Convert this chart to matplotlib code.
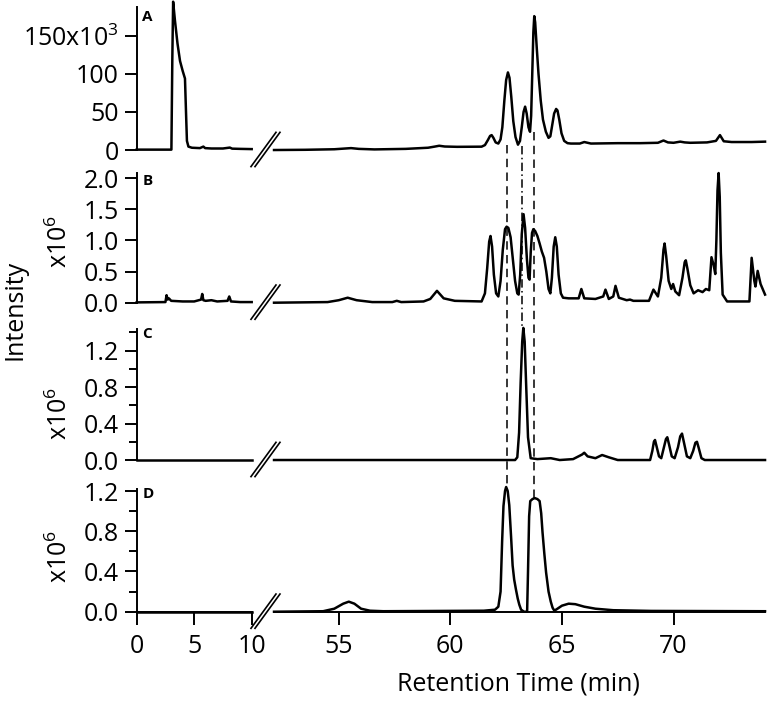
import matplotlib
matplotlib.use("Agg")
import matplotlib.pyplot as plt
import matplotlib.transforms as mtransforms
from matplotlib.lines import Line2D

# ---- data (time in min) ----
# Panel A (intensity in units of 1e3)
a_left_t = [0.0, 3.02, 3.1, 3.17, 3.33, 3.55, 3.77, 4.0, 4.2, 4.3, 4.37, 4.5, 4.8, 5.5, 5.8, 5.95, 6.5, 7.5, 8.1, 8.3, 9.0, 10.0]
a_left_y = [0.5, 0.5, 120, 195, 170, 140, 117, 104, 94, 45, 12, 4.5, 3.0, 2.5, 4.5, 2.5, 2.0, 2.0, 3.2, 1.8, 1.5, 1.2]
a_right_t = [52.1, 53.5, 54.8, 55.3, 55.55, 55.9, 56.6, 58.0, 59.0, 59.3, 59.5, 59.75, 60.3, 61.4,
             61.55, 61.68, 61.78, 61.85, 61.93, 62.03, 62.15, 62.25, 62.33, 62.42, 62.5, 62.58, 62.65,
             62.73, 62.82, 62.92, 63.03, 63.12, 63.2, 63.28, 63.35, 63.42, 63.5, 63.57, 63.62, 63.67,
             63.72, 63.76, 63.8, 63.87, 63.95, 64.05, 64.15, 64.28, 64.4, 64.48, 64.56, 64.65, 64.74,
             64.8, 64.88, 64.98, 65.1, 65.25, 65.4, 65.8, 66.0, 66.3, 67.5, 68.5, 69.3, 69.55, 69.75,
             70.0, 70.3, 70.5, 70.75, 71.5, 71.9, 72.08, 72.25, 72.6, 73.5, 74.1]
a_right_y = [0.0, 0.3, 1.0, 2.0, 2.5, 1.5, 0.8, 1.5, 3.0, 4.5, 5.6, 4.6, 4.2, 4.4,
             6.5, 13.0, 18.5, 19.6, 16.0, 10.0, 8.5, 14.0, 30.0, 65.0, 92.0, 102.0, 95.0,
             70.0, 38.0, 17.0, 7.0, 12.0, 30.0, 50.0, 57.0, 48.0, 30.0, 24.0, 45.0, 100.0,
             155.0, 176.0, 168.0, 135.0, 100.0, 65.0, 40.0, 24.0, 16.0, 18.0, 32.0, 48.0, 54.0,
             52.0, 40.0, 22.0, 12.0, 9.0, 8.5, 8.5, 10.5, 8.5, 9.0, 9.0, 9.5, 12.5, 10.0,
             9.5, 11.0, 10.0, 9.5, 10.0, 12.0, 19.6, 11.5, 10.5, 10.5, 11.0]

# Panel B (units of 1e6)
b_left_t = [0.0, 2.5, 2.6, 2.7, 2.8, 3.0, 4.0, 5.0, 5.6, 5.7, 5.8, 6.0, 6.5, 7.0, 7.9, 8.05, 8.2, 9.0, 10.0]
b_left_y = [0.005, 0.01, 0.12, 0.05, 0.07, 0.03, 0.02, 0.02, 0.05, 0.14, 0.04, 0.03, 0.04, 0.02, 0.03, 0.1, 0.02, 0.01, 0.01]
b_right_t = [52.1, 54.5, 55.0, 55.4, 55.8, 56.5, 57.4, 57.6, 57.8, 58.8, 59.1, 59.4, 59.7, 60.2,
             61.4, 61.55, 61.65, 61.74, 61.8, 61.87, 61.95, 62.05, 62.15, 62.25, 62.35, 62.45, 62.52,
             62.6, 62.7, 62.8, 62.9, 63.0, 63.06, 63.13, 63.2, 63.28, 63.35, 63.43, 63.5, 63.55, 63.6,
             63.66, 63.72, 63.8, 63.9, 64.0, 64.1, 64.2, 64.3, 64.4, 64.48, 64.55, 64.63, 64.7, 64.77,
             64.85, 64.95, 65.05, 65.3, 65.75, 65.87, 66.0, 66.5, 66.85, 66.95, 67.1, 67.3, 67.4, 67.55,
             67.9, 68.05, 68.2, 68.9, 69.1, 69.3, 69.45, 69.55, 69.6, 69.67, 69.78, 69.9, 69.98, 70.08,
             70.25, 70.4, 70.5, 70.55, 70.62, 70.75, 70.9, 71.1, 71.3, 71.45, 71.6, 71.7, 71.8, 71.87,
             71.92, 71.97, 72.02, 72.07, 72.12, 72.2, 72.4, 73.2, 73.4, 73.5, 73.62, 73.67, 73.77,
             73.9, 74.1]
b_right_y = [0.0, 0.01, 0.04, 0.08, 0.04, 0.01, 0.01, 0.03, 0.01, 0.02, 0.06, 0.19, 0.07, 0.03,
             0.02, 0.15, 0.55, 0.98, 1.07, 0.9, 0.45, 0.15, 0.1, 0.35, 0.85, 1.18, 1.22,
             1.2, 1.05, 0.7, 0.35, 0.15, 0.13, 0.45, 1.1, 1.42, 1.2, 0.7, 0.4, 0.37, 0.8,
             1.12, 1.18, 1.15, 1.07, 0.95, 0.82, 0.72, 0.5, 0.22, 0.15, 0.4, 0.9, 1.05, 0.9,
             0.45, 0.15, 0.08, 0.07, 0.07, 0.22, 0.07, 0.06, 0.1, 0.21, 0.06, 0.1, 0.27, 0.08,
             0.04, 0.05, 0.03, 0.03, 0.21, 0.1, 0.4, 0.85, 0.95, 0.75, 0.35, 0.22, 0.3, 0.18,
             0.12, 0.4, 0.65, 0.68, 0.55, 0.28, 0.15, 0.2, 0.17, 0.22, 0.2, 0.73, 0.6, 0.46,
             1.0, 1.8, 2.08, 1.7, 0.8, 0.13, 0.02, 0.02, 0.02, 0.72, 0.35, 0.26, 0.51,
             0.3, 0.13]

# Panel C (units of 1e6)
c_left_t = [0.0, 10.0]
c_left_y = [0.0, 0.0]
c_right_t = [52.1, 62.9, 63.0, 63.08, 63.15, 63.22, 63.27, 63.33, 63.4, 63.48, 63.6, 63.9, 64.5, 64.9,
             65.5, 65.9, 66.0, 66.15, 66.5, 66.8, 67.1, 67.5, 68.95, 69.05, 69.12, 69.17, 69.24, 69.35,
             69.45, 69.55, 69.66, 69.72, 69.8, 69.92, 70.05, 70.2, 70.3, 70.38, 70.46, 70.6, 70.75,
             70.88, 70.98, 71.05, 71.12, 71.25, 71.4, 74.1]
c_right_y = [0.0, 0.0, 0.03, 0.3, 0.85, 1.3, 1.45, 1.3, 0.8, 0.25, 0.02, 0.01, 0.02, 0.0,
             0.01, 0.06, 0.08, 0.04, 0.02, 0.055, 0.03, 0.0, 0.0, 0.1, 0.2, 0.22, 0.15, 0.04,
             0.02, 0.12, 0.23, 0.25, 0.17, 0.04, 0.02, 0.14, 0.26, 0.29, 0.2, 0.04, 0.02,
             0.1, 0.19, 0.2, 0.14, 0.02, 0.0, 0.0]

# Panel D (units of 1e6)
d_left_t = [0.0, 10.0]
d_left_y = [0.0, 0.0]
d_right_t = [52.1, 54.3, 54.8, 55.2, 55.45, 55.7, 56.0, 56.4, 57.0, 61.5, 62.0, 62.15, 62.25, 62.32,
             62.38, 62.45, 62.5, 62.57, 62.64, 62.72, 62.79, 62.86, 62.94, 63.02, 63.09, 63.17, 63.3,
             63.44, 63.48, 63.53, 63.58, 63.68, 63.78, 63.9, 64.0, 64.07, 64.13, 64.21, 64.29, 64.4,
             64.5, 64.58, 64.66, 64.8, 65.0, 65.3, 65.6, 66.0, 66.5, 67.3, 69.0, 74.1]
d_right_y = [0.0, 0.005, 0.03, 0.08, 0.1, 0.08, 0.03, 0.01, 0.005, 0.01, 0.02, 0.05, 0.2, 0.7,
             1.05, 1.2, 1.24, 1.2, 1.06, 0.75, 0.46, 0.32, 0.22, 0.13, 0.07, 0.02, 0.0,
             0.0, 0.4, 0.95, 1.1, 1.12, 1.13, 1.12, 1.1, 0.98, 0.79, 0.58, 0.39, 0.2,
             0.1, 0.04, 0.01, 0.03, 0.06, 0.08, 0.075, 0.05, 0.03, 0.015, 0.008, 0.005]

panel_names = ["A", "B", "C", "D"]
y_limits = [(0, 188), (0, 2.08), (0, 1.435), (0, 1.22)]
y_major = [[0, 50, 100, 150], [0, 0.5, 1.0, 1.5, 2.0], [0, 0.4, 0.8, 1.2], [0, 0.4, 0.8, 1.2]]
y_minor = [[], [], [0.2, 0.6, 1.0, 1.4], [0.2, 0.6, 1.0]]
y_labels = [["0", "50", "100", "150x10$^{3}$"],
            ["0.0", "0.5", "1.0", "1.5", "2.0"],
            ["0.0", "0.4", "0.8", "1.2"],
            ["0.0", "0.4", "0.8", "1.2"]]
left_xticks = [0, 5, 10]
right_xticks = [55, 60, 65, 70]

# reference retention times joining the panels (dashed / dash-dot guides)
guide_t = [62.56, 63.22, 63.76]
guide_start = [6.0, 5.0, 24.0]        # value in panel A where the guide starts
guide_end_panel = [3, 2, 3]           # panel index where it stops
guide_end = [1.24, 1.45, 1.13]        # value in that panel
guide_styles = [(0, (5.5, 3.5)), (0, (5.5, 2.2, 1.0, 2.2)), (0, (5.5, 3.5))]

plt.rcParams["font.family"] = ["Open Sans", "DejaVu Sans"]
plt.rcParams["mathtext.fontset"] = "custom"
plt.rcParams["mathtext.rm"] = "Open Sans"
plt.rcParams["mathtext.default"] = "regular"

FS = 18


def make_figure():
    fig = plt.figure(figsize=(7.73, 7.02), dpi=100)
    rows = [(0.7863, 0.2037), (0.5688, 0.1847), (0.3447, 0.1862), (0.1286, 0.1748)]
    left_x, left_w = 0.1768, 0.1488
    right_x, right_w = 0.3545, 0.6352

    traces = [(a_left_t, a_left_y, a_right_t, a_right_y),
              (b_left_t, b_left_y, b_right_t, b_right_y),
              (c_left_t, c_left_y, c_right_t, c_right_y),
              (d_left_t, d_left_y, d_right_t, d_right_y)]
    label_y = [0.98, 0.99, 1.02, 1.02]
    exp_y = [None, 0.47, 0.36, 0.45]

    right_axes = []
    for i, (lt, ly, rt, ry) in enumerate(traces):
        y0, h = rows[i]
        last = i == len(traces) - 1
        axl = fig.add_axes([left_x, y0, left_w, h], facecolor="none")
        axr = fig.add_axes([right_x, y0, right_w, h], facecolor="none")
        for ax, t, y in ((axl, lt, ly), (axr, rt, ry)):
            ax.plot(t, y, color="black", lw=1.8, clip_on=False, solid_joinstyle="round")
            ax.set_ylim(*y_limits[i])
            for s in ("top", "right"):
                ax.spines[s].set_visible(False)
            ax.spines["bottom"].set_visible(last)
            ax.spines["bottom"].set_linewidth(1.4)
            ax.spines["left"].set_linewidth(1.4)
            ax.tick_params(which="major", direction="out", length=9, width=1.4,
                           labelsize=FS, pad=4)
            ax.tick_params(which="minor", direction="out", length=5.5, width=1.4)
            ax.tick_params(axis="x", pad=7)
        axl.set_xlim(0, 10)
        axr.set_xlim(52.1, 74.1)
        axr.spines["left"].set_visible(False)
        axr.set_yticks([])

        axl.set_yticks(y_major[i])
        axl.set_yticklabels(y_labels[i])
        if y_minor[i]:
            axl.set_yticks(y_minor[i], minor=True)
        if last:
            axl.set_xticks(left_xticks)
            axr.set_xticks(right_xticks)
        else:
            axl.set_xticks([])
            axr.set_xticks([])

        axl.text(0.05, label_y[i], panel_names[i], transform=axl.transAxes,
                 ha="left", va="top", fontsize=11, fontweight="bold")
        if exp_y[i] is not None:
            axl.text(-0.67, exp_y[i], "x10$^{6}$", transform=axl.transAxes, rotation=90,
                     ha="center", va="center", fontsize=FS)

        # axis break marks "//" just after 10 min
        trans = fig.dpi_scale_trans + mtransforms.ScaledTranslation(10, 0, axl.transData)
        for dx in (0.0, 0.04):
            fig.add_artist(Line2D([-0.007 + dx, 0.243 + dx], [-0.166, 0.177],
                                  transform=trans, color="black", lw=1.2))
        right_axes.append(axr)

    # vertical guides: x in data units, y converted to figure fraction per panel
    def fig_y(k, v):
        y0, h = rows[k]
        lo, hi = y_limits[k]
        return y0 + h * (v - lo) / (hi - lo)

    guide_trans = mtransforms.blended_transform_factory(right_axes[0].transData, fig.transFigure)
    for t, ys, k, ye, ls in zip(guide_t, guide_start, guide_end_panel, guide_end, guide_styles):
        fig.add_artist(Line2D([t, t], [fig_y(0, ys), fig_y(k, ye)], transform=guide_trans,
                              color="black", lw=1.1, linestyle=ls))

    fig.text(15 / 773, 1 - 310 / 702, "Intensity", rotation=90, ha="center", va="center", fontsize=FS)
    fig.text(518 / 773, 1 - 684 / 702, "Retention Time (min)", ha="center", va="center", fontsize=FS)
    fig.savefig("out.png", dpi=100)


if __name__ == "__main__":
    make_figure()
